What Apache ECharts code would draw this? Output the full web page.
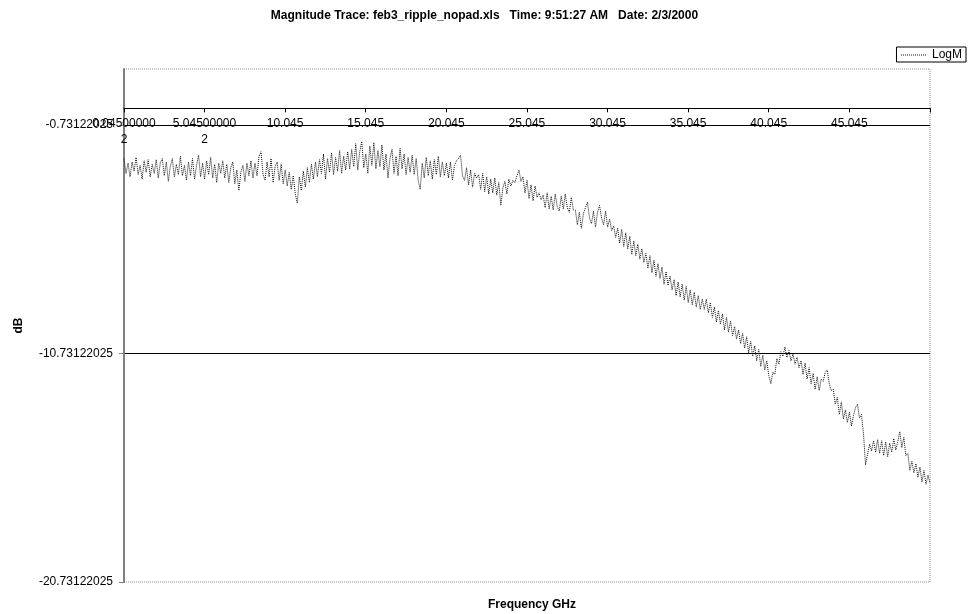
<!DOCTYPE html>
<html>
<head>
<meta charset="utf-8">
<script src="https://cdn.jsdelivr.net/npm/echarts@6/dist/echarts.min.js"></script>
<style>
  html, body { margin: 0; padding: 0; background: #fff; }
  #chart { width: 969px; height: 614px; }
</style>
</head>
<body>
<div id="chart"></div>
<script>
// Sweep settings (GHz): 401 points, 0.125 GHz apart
const sweepStart = 0.045;
const sweepStep = 0.125;

// LogM magnitude trace (dB), one value per sweep point
const logM = [
  -2.20,-2.85,-2.40,-3.00,-2.35,-2.75,-2.15,-2.90,-2.50,-3.10,-2.30,-2.80,-2.25,-3.00,-2.45,-2.85,
  -2.25,-3.05,-2.40,-2.20,-2.95,-2.35,-3.20,-2.55,-2.20,-3.00,-2.45,-2.90,-2.10,-2.95,-2.50,-3.15,
  -2.35,-2.95,-2.20,-3.10,-2.50,-2.05,-3.00,-2.40,-3.10,-2.30,-2.90,-2.15,-3.05,-2.45,-3.25,-2.40,
  -2.85,-2.30,-3.05,-2.45,-3.25,-2.60,-2.35,-3.30,-2.70,-3.60,-2.80,-2.50,-3.20,-2.40,-2.95,-2.30,
  -3.05,-2.40,-2.95,-2.10,-1.90,-2.90,-3.15,-2.35,-3.00,-2.20,-3.25,-2.55,-2.35,-3.15,-2.45,-3.30,
  -2.70,-3.40,-2.80,-3.55,-2.95,-3.75,-4.15,-3.00,-3.60,-2.75,-3.45,-2.60,-3.25,-2.45,-3.10,-2.35,
  -3.00,-2.25,-2.85,-2.00,-3.10,-2.20,-2.80,-1.95,-2.90,-2.15,-2.75,-1.85,-2.85,-2.10,-2.70,-1.90,
  -2.65,-1.80,-2.55,-1.55,-2.70,-1.90,-1.45,-2.60,-2.00,-2.85,-1.65,-2.50,-1.50,-2.65,-1.85,-2.55,
  -1.60,-2.70,-2.00,-3.05,-2.20,-1.80,-2.85,-2.10,-2.95,-1.75,-2.65,-2.00,-2.90,-2.15,-2.80,-2.05,
  -2.90,-2.20,-3.15,-3.55,-2.40,-3.05,-2.15,-2.95,-2.30,-3.10,-2.25,-2.90,-2.10,-3.00,-2.35,-2.95,
  -2.40,-3.05,-2.35,-3.15,-2.50,-2.30,-2.20,-2.05,-2.95,-3.15,-2.60,-3.35,-2.70,-3.45,-2.85,-3.05,
  -2.90,-3.55,-2.85,-3.65,-3.00,-3.75,-3.10,-3.70,-3.05,-3.80,-3.25,-4.25,-3.50,-3.20,-3.75,-3.10,
  -3.40,-3.15,-3.25,-2.95,-2.70,-3.20,-3.00,-3.70,-3.15,-3.95,-3.35,-4.05,-3.40,-3.90,-3.70,-4.00,
  -3.80,-4.35,-3.70,-4.40,-3.85,-4.45,-3.75,-4.30,-4.50,-3.85,-4.40,-3.75,-4.35,-4.55,-3.90,-4.45,
  -4.45,-5.10,-4.55,-5.25,-4.60,-4.35,-4.10,-4.80,-5.05,-4.50,-5.20,-4.55,-4.25,-4.80,-5.10,-4.50,
  -5.20,-4.85,-5.35,-5.15,-5.65,-5.25,-5.90,-5.30,-6.05,-5.45,-6.15,-5.60,-6.40,-5.80,-6.45,-5.95,
  -6.60,-6.15,-6.75,-6.35,-7.00,-6.45,-7.20,-6.65,-7.35,-6.80,-7.45,-6.95,-7.70,-7.15,-7.75,-7.35,
  -7.95,-7.50,-8.20,-7.60,-8.25,-7.70,-8.40,-7.80,-8.50,-7.95,-8.60,-8.05,-8.70,-8.20,-8.80,-8.35,
  -8.80,-8.35,-8.95,-8.50,-9.15,-8.70,-9.35,-8.85,-9.45,-9.00,-9.70,-9.15,-9.80,-9.30,-9.95,-9.55,
  -10.10,-9.70,-10.30,-9.85,-10.50,-10.00,-10.70,-10.20,-10.85,-10.40,-11.05,-10.55,-11.30,-10.80,-11.45,-11.05,
  -11.70,-12.05,-11.55,-11.65,-10.95,-11.20,-10.65,-10.85,-10.45,-10.90,-10.60,-11.05,-10.75,-11.20,-10.90,-11.35,
  -11.05,-11.65,-11.15,-11.85,-11.35,-12.05,-11.60,-12.30,-11.75,-12.35,-11.85,-11.95,-11.55,-11.45,-12.05,-12.35,
  -12.30,-12.95,-12.65,-13.40,-12.85,-13.60,-13.20,-13.75,-13.30,-13.90,-13.45,-13.10,-12.95,-13.55,-13.40,-14.25,
  -15.60,-15.15,-14.70,-15.00,-14.55,-15.05,-14.50,-15.10,-14.55,-15.20,-14.60,-15.25,-14.65,-15.05,-14.45,-14.95,
  -14.60,-14.15,-14.85,-14.40,-15.20,-15.10,-15.85,-15.45,-15.95,-15.55,-16.15,-15.70,-16.35,-15.85,-16.45,-16.05,
  -16.40
];

// Frequency tick labels, one per 5 GHz tick
const freqTickLabels = [
  '0.04500000\n2', '5.04500000\n2', '10.045', '15.045', '20.045',
  '25.045', '30.045', '35.045', '40.045', '45.045', ''
];

// dB tick labels, one per 10 dB tick from the bottom
const dbTickLabels = ['-20.73122025', '-10.73122025', '-0.73122025'];

// dB axis settings
const dbMin = -20.73122025;
const dbMax = 1.72;
const dbStep = 10;

// Plot box
const plot = { left: 124, top: 69, right: 39, bottom: 32, width: 969, height: 614 };
const plotW = plot.width - plot.left - plot.right;
const plotH = plot.height - plot.top - plot.bottom;

// The frequency axis crosses the dB axis at 0 dB
const freqAxisOffset = -(dbMax / (dbMax - dbMin)) * plotH;

const points = logM.map((v, i) => [sweepStart + sweepStep * i, v]);

const font = '"Liberation Sans", Arial, sans-serif';

const chart = echarts.init(document.getElementById('chart'), null, { renderer: 'canvas' });

chart.setOption({
  animation: false,
  backgroundColor: '#fff',
  title: [
    {
      text: 'Magnitude Trace: feb3_ripple_nopad.xls   Time: 9:51:27 AM   Date: 2/3/2000',
      left: 'center',
      top: 5,
      textStyle: { fontFamily: font, fontSize: 12, fontWeight: 'bold', color: '#000' }
    },
    {
      text: 'Frequency GHz',
      left: plot.left + plotW / 2,
      textAlign: 'center',
      top: 594,
      textStyle: { fontFamily: font, fontSize: 12, fontWeight: 'bold', color: '#000' }
    }
  ],
  legend: {
    data: ['LogM'],
    right: 3,
    top: 47,
    orient: 'vertical',
    backgroundColor: '#fff',
    borderColor: '#000',
    borderWidth: 1,
    borderRadius: 0,
    padding: [2, 4, 1, 4],
    itemWidth: 26,
    itemHeight: 10,
    itemGap: 4,
    itemStyle: { color: 'transparent', borderWidth: 0 },
    lineStyle: { type: 'dotted', width: 1, color: '#111' },
    textStyle: { fontFamily: font, fontSize: 12, color: '#000' }
  },
  grid: {
    left: plot.left,
    right: plot.right,
    top: plot.top,
    bottom: plot.bottom,
    containLabel: false,
    outerBoundsMode: 'none'
  },
  graphic: [
    {
      type: 'rect',
      shape: { x: plot.left, y: plot.top, width: plotW, height: plotH },
      style: { fill: 'none', stroke: '#8a8a8a', lineWidth: 1, lineDash: [1, 1] },
      z: 0,
      silent: true
    }
  ],
  xAxis: {
    type: 'value',
    min: sweepStart,
    max: sweepStart + sweepStep * (logM.length - 1),
    interval: 5,
    position: 'top',
    offset: freqAxisOffset,
    axisLine: { onZero: false, lineStyle: { color: '#000', width: 1 } },
    axisTick: { show: true, inside: true, length: 4, lineStyle: { color: '#000' } },
    axisLabel: {
      inside: true,
      margin: 7,
      fontFamily: font,
      fontSize: 12,
      color: '#000',
      lineHeight: 16,
      verticalAlign: 'top',
      formatter: v => freqTickLabels[Math.round((v - sweepStart) / 5)] || ''
    },
    splitLine: { show: false }
  },
  yAxis: {
    type: 'value',
    min: dbMin,
    max: dbMax,
    interval: dbStep,
    name: 'dB',
    nameLocation: 'middle',
    nameRotate: 90,
    nameGap: 99,
    nameTextStyle: { fontFamily: font, fontSize: 12, fontWeight: 'bold', color: '#000' },
    axisLine: { show: true, lineStyle: { color: '#808080', width: 2 } },
    axisTick: { show: true, length: 5, lineStyle: { color: '#808080' } },
    axisLabel: {
      margin: 11,
      fontFamily: font,
      fontSize: 12,
      color: '#000',
      showMaxLabel: false,
      formatter: v => {
        const k = Math.round((v - dbMin) / dbStep);
        return dbTickLabels[k] !== undefined && Math.abs(v - (dbMin + k * dbStep)) < 0.05 ? dbTickLabels[k] : '';
      }
    },
    splitLine: {
      show: true,
      lineStyle: { color: ['transparent', '#000', '#000', 'transparent'], width: 1 }
    }
  },
  series: [
    {
      name: 'LogM',
      type: 'line',
      data: points,
      showSymbol: false,
      symbol: 'none',
      itemStyle: { color: '#111' },
      lineStyle: { type: 'dotted', width: 1, color: '#111' },
      z: 3
    }
  ]
});
</script>
</body>
</html>
